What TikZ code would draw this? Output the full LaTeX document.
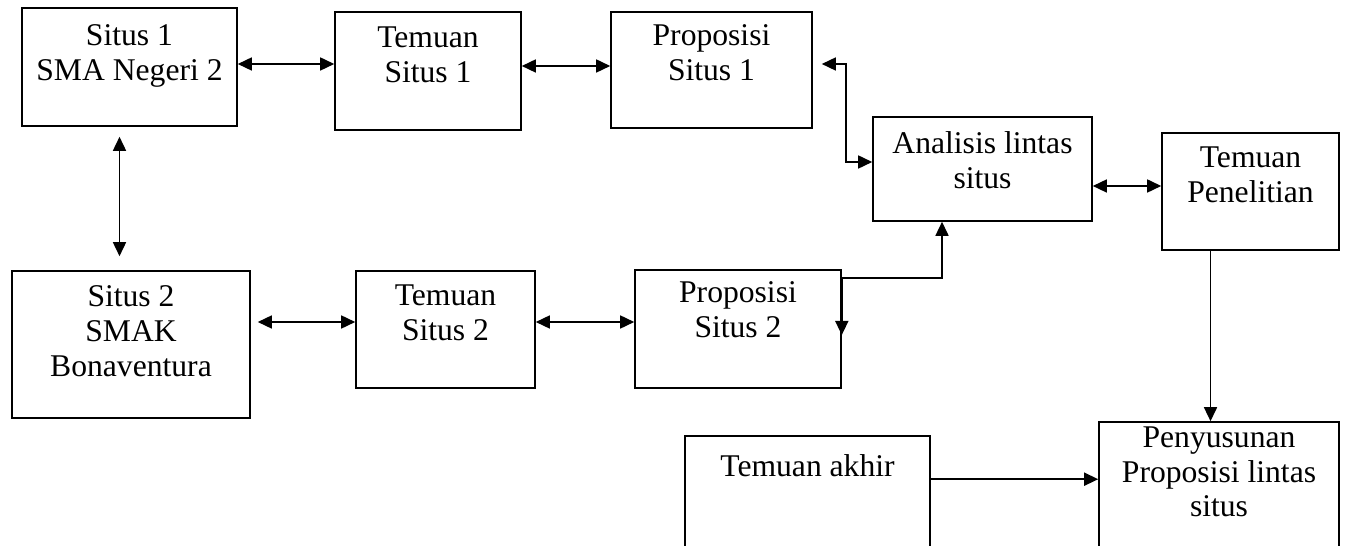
\documentclass[tikz,border=0pt]{standalone}
\usepackage{fontspec}
\setmainfont{Liberation Serif}
\usetikzlibrary{arrows.meta,positioning,fit}
\tikzset{
  kotak/.style={draw, line width=0.9pt, inner sep=0pt},
  teks/.style={align=center, inner sep=0pt, font=\fontsize{18}{19.8}\selectfont},
  panah/.style={line width=0.9pt, {Triangle[length=0.28cm,width=0.26cm]}-{Triangle[length=0.28cm,width=0.26cm]}},
  panah1/.style={line width=0.9pt, -{Triangle[length=0.28cm,width=0.26cm]}}
}
\begin{document}
\begin{tikzpicture}[x=0.02cm, y=-0.02cm]
  \clip (0,0) rectangle (1364,546);
  % kotak
  \node[kotak, fit={(22,8) (237,126)}] (s1) {};
  \node[kotak, fit={(335,12) (521,130)}] (t1) {};
  \node[kotak, fit={(611,12) (812,128)}] (p1) {};
  \node[kotak, fit={(873,117) (1092,221)}] (an) {};
  \node[kotak, fit={(1162,133) (1339,250)}] (tp) {};
  \node[kotak, fit={(12,271) (250,418)}] (s2) {};
  \node[kotak, fit={(356,271) (535,388)}] (t2) {};
  \node[kotak, fit={(635,270) (841,388)}] (p2) {};
  \node[kotak, fit={(685,436) (930,600)}] (ta) {};
  \node[kotak, fit={(1099,422) (1339,600)}] (py) {};
  % teks
  \node[teks, below=0.34cm of s1.north] (s1t) {Situs 1\\SMA Negeri 2};
  \node[teks, below=0.30cm of t1.north] (t1t) {Temuan\\Situs 1};
  \node[teks, below=0.26cm of p1.north] (p1t) {Proposisi\\Situs 1};
  \node[teks, below=0.30cm of an.north] (ant) {Analisis lintas\\situs};
  \node[teks, below=0.28cm of tp.north] (tpt) {Temuan\\Penelitian};
  \node[teks, below=0.31cm of s2.north] (s2t) {Situs 2\\SMAK\\Bonaventura};
  \node[teks, below=0.28cm of t2.north] (t2t) {Temuan\\Situs 2};
  \node[teks, below=0.25cm of p2.north] (p2t) {Proposisi\\Situs 2};
  \node[teks, below=0.39cm of ta.north] (tat) {Temuan akhir};
  \node[teks, below=0.10cm of py.north] (pyt) {Penyusunan\\Proposisi lintas\\situs};
  % panah
  \draw[panah] ([yshift=0.06cm]s1.east) -- ([yshift=0.06cm]s1.east -| t1.west);
  \draw[panah] ([yshift=0.1cm]t1.east) -- ([yshift=0.1cm]t1.east -| p1.west);
  \draw[panah, shorten <=0.2cm, shorten >=0.28cm] ([xshift=-0.2cm]s1.south) -- ([xshift=-0.2cm]s1.south |- s2.north);
  \draw[panah, shorten <=0.14cm] ([yshift=0.15cm]t2.west -| s2.east) -- ([yshift=0.15cm]t2.west);
  \draw[panah] ([yshift=0.15cm]t2.east) -- ([yshift=0.15cm]t2.east -| p2.west);
  \draw[panah] ([yshift=-0.12cm]p2.east) -- ([yshift=-0.18cm]p2.north east) -| ([xshift=-0.81cm]an.south);
  \draw[panah] ([shift={(0.18cm,0.12cm)}]p1.east) -| ([shift={(-0.52cm,0.14cm)}]an.west) -- ([yshift=0.14cm]an.west);
  \draw[panah] ([yshift=-0.34cm]an.east) -- ([yshift=-0.34cm]an.east -| tp.west);
  \draw[panah1] ([xshift=-0.8cm]tp.south) -- ([xshift=-0.8cm]tp.south |- py.north);
  \draw[panah1] ([yshift=-0.88cm]ta.north east) -- ([yshift=-0.88cm]ta.north east -| py.west);
\end{tikzpicture}
\end{document}
